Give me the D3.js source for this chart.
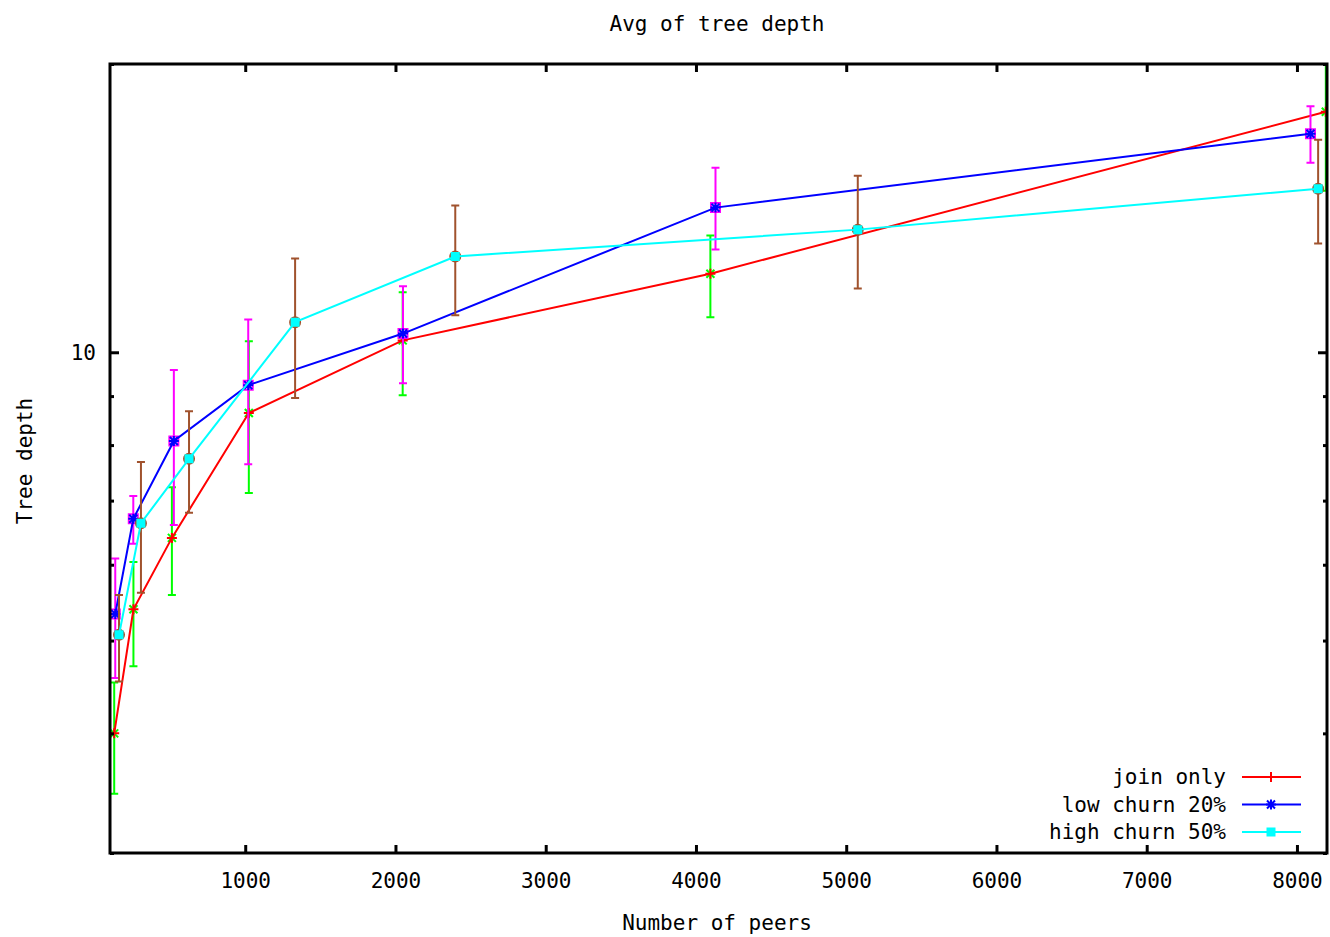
<!DOCTYPE html>
<html>
<head>
<meta charset="utf-8">
<script src="https://cdn.jsdelivr.net/npm/d3@7"></script>
<style>
  body { margin: 0; background: #fff; }
  text { font-family: "DejaVu Sans Mono", monospace; font-size: 21px; fill: #000; }
</style>
</head>
<body>
<svg id="chart" width="1330" height="937"></svg>
<script>
// series: join only
const joinX  = [128, 256, 512, 1024, 2048, 4096, 8192];
const joinY  = [4.00, 5.39, 6.40, 8.64, 10.29, 12.08, 17.83];
const joinLo = [3.46, 4.70, 5.58, 7.13, 9.02, 10.88, 14.75];
const joinHi = [4.52, 6.04, 7.23, 10.27, 11.55, 13.24, 20.9];

// series: low churn 20%
const lowX  = [135, 255, 525, 1020, 2050, 4130, 8090];
const lowY  = [5.33, 6.70, 8.08, 9.24, 10.46, 14.16, 16.91];
const lowLo = [4.57, 6.31, 6.60, 7.64, 9.28, 12.80, 15.77];
const lowHi = [6.09, 7.08, 9.58, 10.82, 11.72, 15.58, 18.07];

// series: high churn 50%
const highX  = [160, 306, 626, 1332, 2398, 5077, 8141];
const highY  = [5.07, 6.63, 7.74, 10.75, 12.59, 13.43, 14.82];
const highLo = [4.53, 5.61, 6.80, 8.96, 10.93, 11.66, 12.99];
const highHi = [5.58, 7.68, 8.68, 12.53, 14.23, 15.29, 16.67];

const xTicks = [1000, 2000, 3000, 4000, 5000, 6000, 7000, 8000];
const yMajor = [10];
const yMinor = [3, 4, 5, 6, 7, 8, 9, 20];

const pLeft = 110, pRight = 1327, pTop = 64, pBottom = 853;

const svg = d3.select("#chart");

let x = d3.scaleLinear().domain([100, 8200]).range([pLeft, pRight]);
let y = d3.scaleLog().domain([3, 20]).range([pBottom, pTop]);

// markers
const mk = {
    plus:  "M-5,0H5M0,-5V5",
    cross: "M-4,-4L4,4M-4,4L4,-4",
    star:  "M-5,0H5M0,-5V5M-4,-4L4,4M-4,4L4,-4",
    box:   "M-4.5,-4.5H4.5V4.5H-4.5Z",
    fbox:  "M-3.5,-3.5H3.5V3.5H-3.5Z"
};

svg.append("defs").append("clipPath").attr("id", "plotclip")
    .append("rect").attr("x", pLeft).attr("y", pTop)
    .attr("width", pRight - pLeft).attr("height", pBottom - pTop);

const plot = svg.append("g").attr("clip-path", "url(#plotclip)");

let drawErr = (xs, ys, lo, hi, color, marker) => {
    let d = xs.map((v, i) => ({x: v, y: ys[i], lo: lo[i], hi: hi[i]}));
    let g = plot.append("g").attr("stroke", color).attr("stroke-width", 2).attr("fill", "none");
    g.selectAll(".bar").data(d).enter().append("path")
        .attr("d", p => {
            let px = x(p.x), y0 = y(p.lo), y1 = y(p.hi);
            return `M${px},${y0}V${y1}M${px - 4},${y0}H${px + 4}M${px - 4},${y1}H${px + 4}`;
        });
    if (marker === "circle") {
        g.selectAll(".pt").data(d).enter().append("circle")
            .attr("cx", p => x(p.x)).attr("cy", p => y(p.y)).attr("r", 5);
    } else {
        g.selectAll(".pt").data(d).enter().append("path")
            .attr("transform", p => `translate(${x(p.x)},${y(p.y)})`)
            .attr("d", mk[marker]);
    }
};

let drawLine = (xs, ys, color, marker, filled) => {
    let d = xs.map((v, i) => ({x: v, y: ys[i]}));
    plot.append("path").datum(d)
        .attr("fill", "none").attr("stroke", color).attr("stroke-width", 2)
        .attr("d", d3.line().x(p => x(p.x)).y(p => y(p.y)));
    plot.selectAll(null).data(d).enter().append("path")
        .attr("transform", p => `translate(${x(p.x)},${y(p.y)})`)
        .attr("d", mk[marker])
        .attr("stroke", color).attr("stroke-width", 2)
        .attr("fill", filled ? color : "none");
};

drawErr(joinX, joinY, joinLo, joinHi, "#00ff00", "cross");
drawLine(joinX, joinY, "#ff0000", "plus", false);
drawErr(lowX, lowY, lowLo, lowHi, "#ff00ff", "box");
drawLine(lowX, lowY, "#0000ff", "star", false);
drawErr(highX, highY, highLo, highHi, "#a0522d", "circle");
drawLine(highX, highY, "#00ffff", "fbox", true);

// axes (gnuplot style: ticks inward, mirrored)
let axB = svg.append("g").attr("transform", `translate(0,${pBottom})`)
    .call(d3.axisBottom(x).tickValues(xTicks).tickSize(-8).tickPadding(20).tickFormat(d3.format("d")));
let axT = svg.append("g").attr("transform", `translate(0,${pTop})`)
    .call(d3.axisTop(x).tickValues(xTicks).tickSize(-8).tickFormat(""));
let axL = svg.append("g").attr("transform", `translate(${pLeft},0)`)
    .call(d3.axisLeft(y).tickValues(yMajor).tickSize(-9).tickPadding(14).tickFormat(d3.format("d")));
let axLm = svg.append("g").attr("transform", `translate(${pLeft},0)`)
    .call(d3.axisLeft(y).tickValues(yMinor).tickSize(-4).tickFormat(""));
let axR = svg.append("g").attr("transform", `translate(${pRight},0)`)
    .call(d3.axisRight(y).tickValues(yMajor).tickSize(-9).tickFormat(""));
let axRm = svg.append("g").attr("transform", `translate(${pRight},0)`)
    .call(d3.axisRight(y).tickValues(yMinor).tickSize(-4).tickFormat(""));

[axB, axT, axL, axLm, axR, axRm].forEach(a => {
    a.select(".domain").remove();
    a.selectAll(".tick line").attr("stroke", "#000").attr("stroke-width", 3);
    a.selectAll(".tick text").style("font-family", "DejaVu Sans Mono").style("font-size", "21px").attr("fill", "#000");
});

svg.append("rect").attr("x", pLeft).attr("y", pTop)
    .attr("width", pRight - pLeft).attr("height", pBottom - pTop)
    .attr("fill", "none").attr("stroke", "#000").attr("stroke-width", 3);

// titles
svg.append("text").attr("x", 717).attr("y", 31).attr("text-anchor", "middle").text("Avg of tree depth");
svg.append("text").attr("x", 717).attr("y", 930).attr("text-anchor", "middle").text("Number of peers");
svg.append("text").attr("transform", "translate(32,461) rotate(-90)").attr("text-anchor", "middle").text("Tree depth");

// legend
const legNames = ["join only", "low churn 20%", "high churn 50%"];
const legColors = ["#ff0000", "#0000ff", "#00ffff"];
const legMarks = ["plus", "star", "fbox"];
let leg = svg.append("g");
legNames.forEach((n, i) => {
    let ly = 777 + i * 27.5;
    leg.append("text").attr("x", 1226).attr("y", ly + 7).attr("text-anchor", "end").text(n);
    leg.append("line").attr("x1", 1242).attr("x2", 1301).attr("y1", ly).attr("y2", ly)
        .attr("stroke", legColors[i]).attr("stroke-width", 2);
    leg.append("path").attr("transform", `translate(1271,${ly})`).attr("d", mk[legMarks[i]])
        .attr("stroke", legColors[i]).attr("stroke-width", 2)
        .attr("fill", legMarks[i] === "fbox" ? legColors[i] : "none");
});
</script>
</body>
</html>
